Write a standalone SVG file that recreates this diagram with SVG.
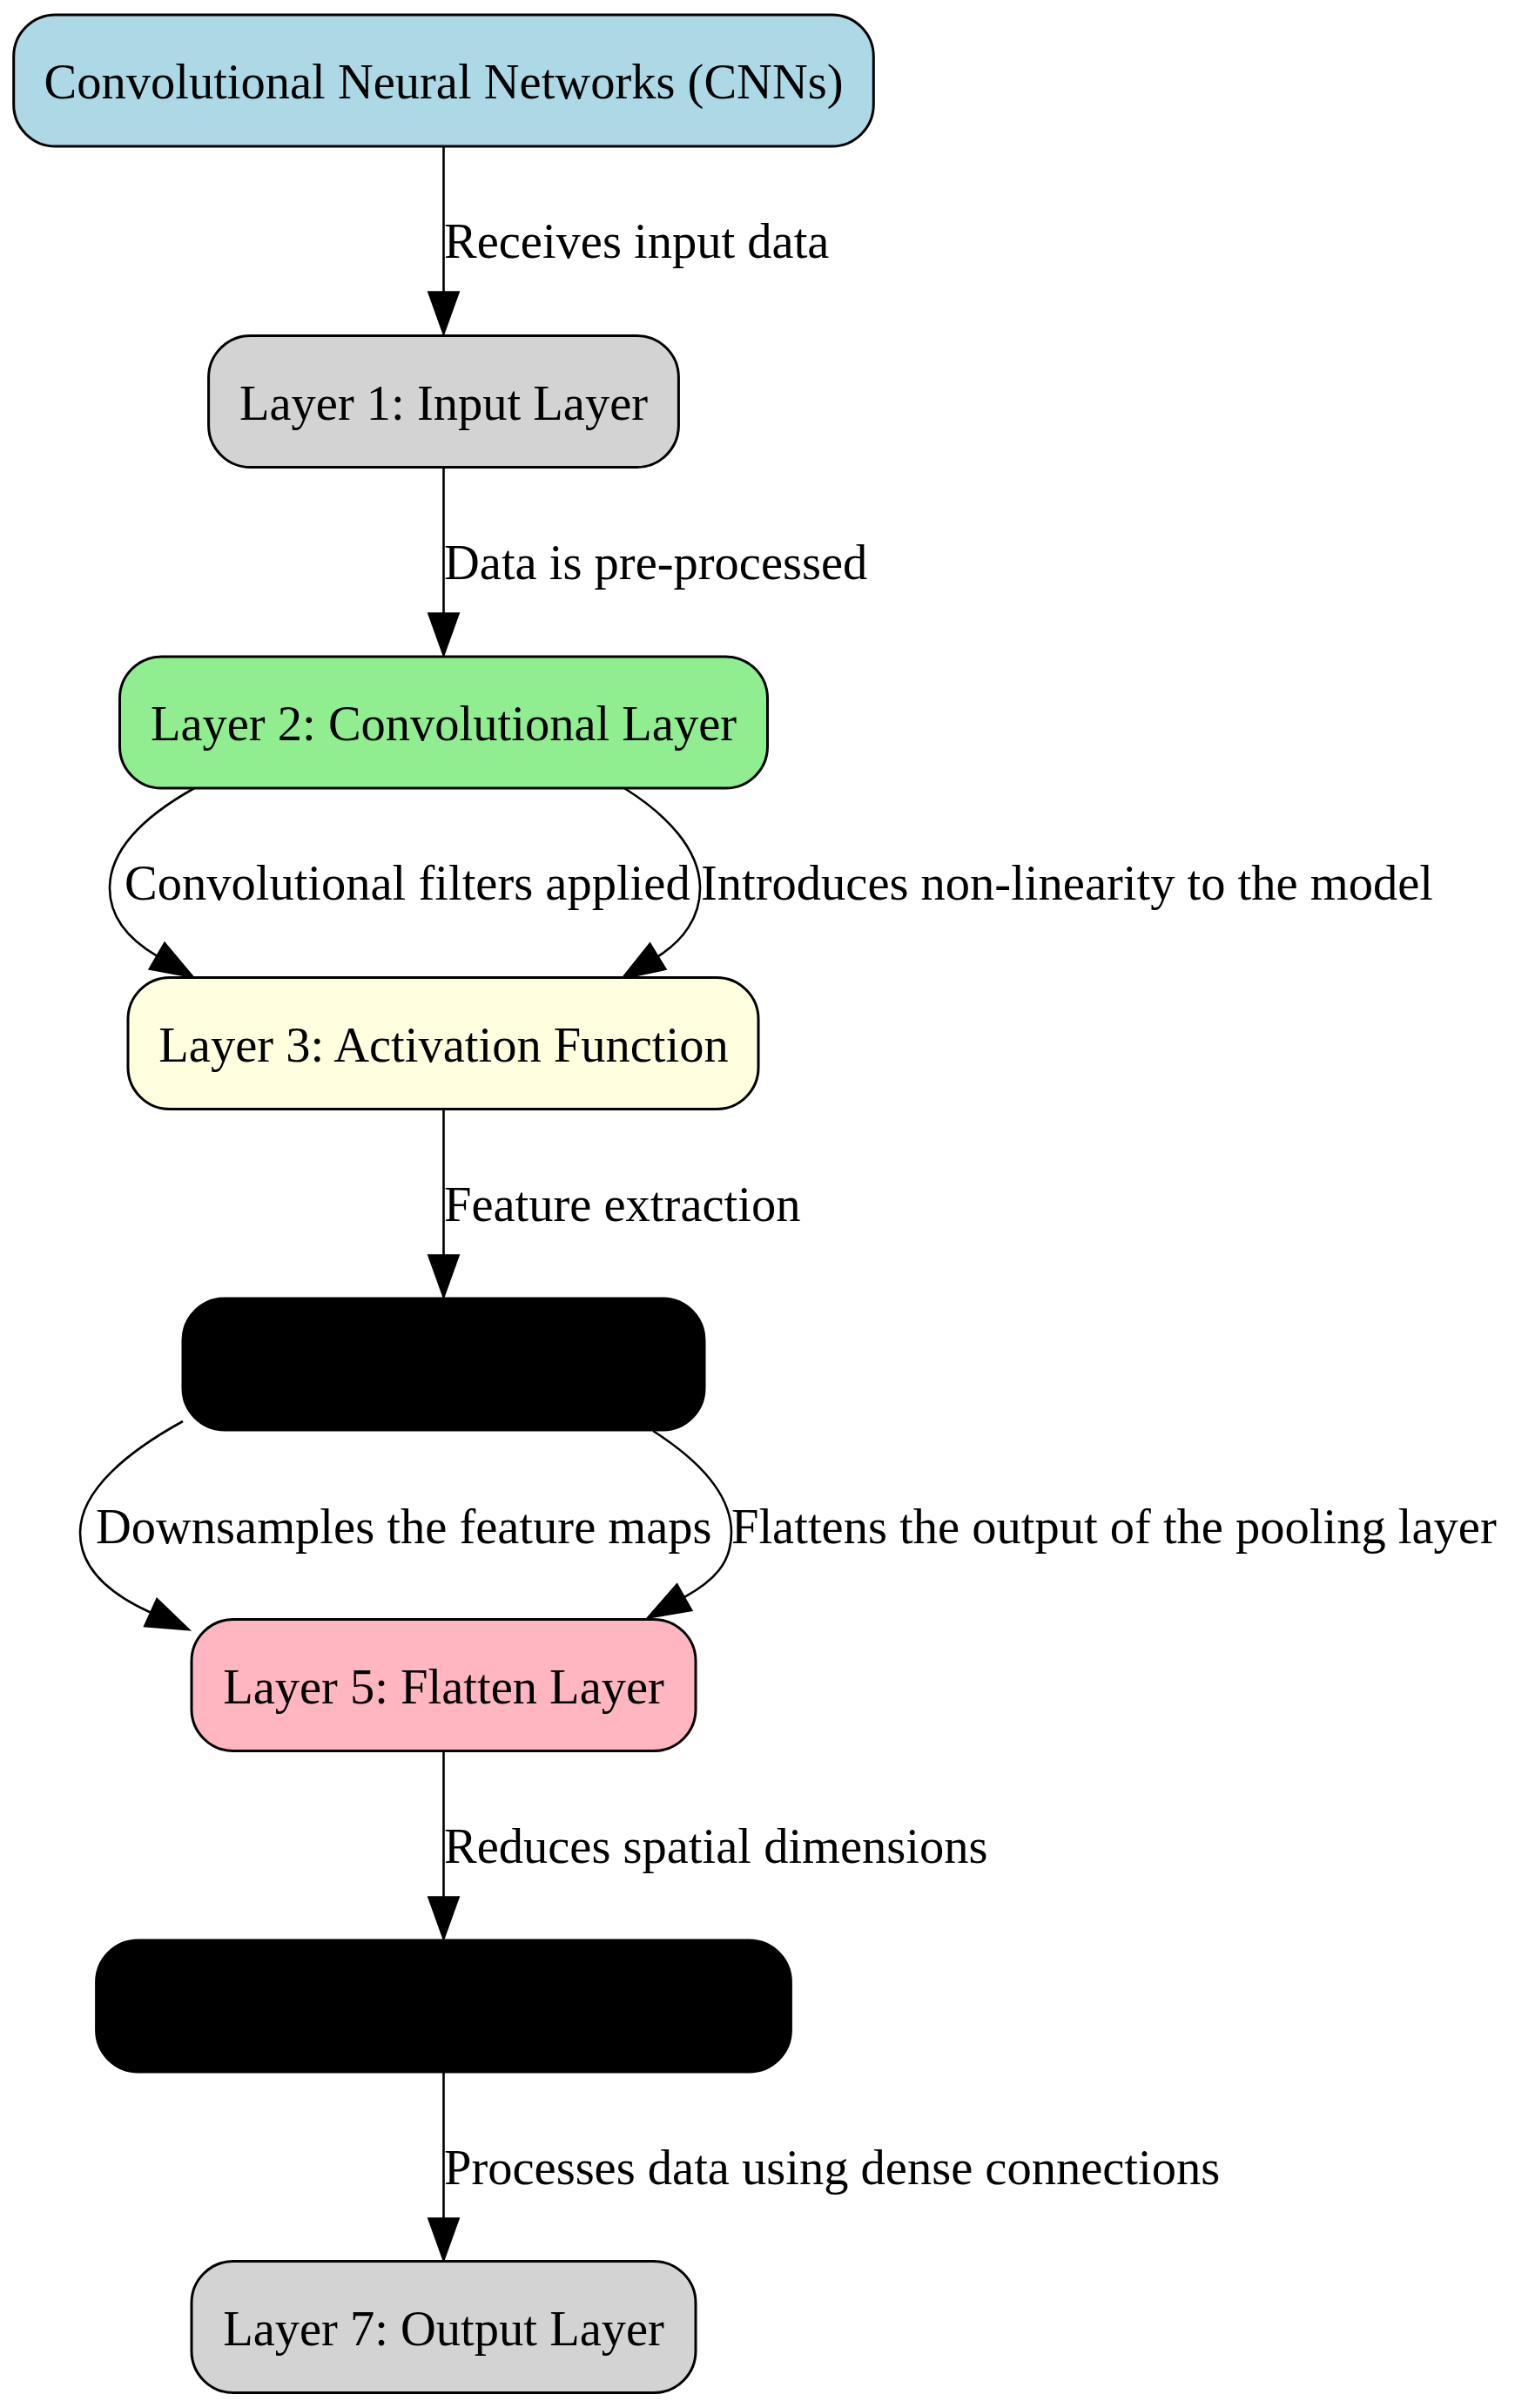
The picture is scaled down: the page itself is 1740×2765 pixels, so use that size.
<svg xmlns="http://www.w3.org/2000/svg" width="1740" height="2765" viewBox="0 0 1740 2765">
<style>
.node rect{stroke:#000;stroke-width:3}
.node text{font-family:"Liberation Serif","Times New Roman",serif;font-size:56.5px;fill:#000;text-anchor:middle}
.edge path{fill:none;stroke:#000;stroke-width:2.6}
.lbl{font-family:"Liberation Serif","Times New Roman",serif;font-size:56.5px;fill:#000}
</style>
<defs>
<marker id="arr" markerUnits="userSpaceOnUse" markerWidth="60" markerHeight="40" refX="0" refY="20" orient="auto" overflow="visible">
<path d="M0,3 L47.5,20 L0,37 Z" fill="#000" stroke="#000" stroke-width="2.6"/>
</marker>
</defs>
<rect width="1740" height="2765" fill="#fff"/>
<g id="connectors" class="edge">
<path d="M509.5,168 L509.5,335.5" marker-end="url(#arr)"/>
<path d="M509.5,536.5 L509.5,704.5" marker-end="url(#arr)"/>
<path d="M223.3,905 C175,932 126,970 126,1020 C126,1055 150,1080 180.5,1097.8" marker-end="url(#arr)"/>
<path d="M717,905 C765,935 804,975 804,1020 C804,1053 785,1080 755.4,1098.3" marker-end="url(#arr)"/>
<path d="M509.5,1273.5 L509.5,1441.5" marker-end="url(#arr)"/>
<path d="M210,1632 C150,1665 92,1710 92,1760 C92,1800 125,1830 173.3,1851.7" marker-end="url(#arr)"/>
<path d="M750,1643 C800,1675 840,1715 840,1760 C840,1795 820,1815 785.8,1834.2" marker-end="url(#arr)"/>
<path d="M509.5,2010.5 L509.5,2178.5" marker-end="url(#arr)"/>
<path d="M509.5,2379 L509.5,2547.5" marker-end="url(#arr)"/>
<text class="lbl" x="510" y="296">Receives input data</text>
<text class="lbl" x="510" y="665">Data is pre-processed</text>
<text class="lbl" x="143" y="1033">Convolutional filters applied</text>
<text class="lbl" x="805" y="1033">Introduces non-linearity to the model</text>
<text class="lbl" x="510" y="1402">Feature extraction</text>
<text class="lbl" x="110" y="1772">Downsamples the feature maps</text>
<text class="lbl" x="840" y="1772">Flattens the output of the pooling layer</text>
<text class="lbl" x="510" y="2139">Reduces spatial dimensions</text>
<text class="lbl" x="510" y="2508">Processes data using dense connections</text>
</g>
<g id="cnn" class="node">
<rect x="15.7" y="17" width="987.6" height="151" rx="48" ry="48" fill="#ADD8E6"/>
<text x="509.5" y="113">Convolutional Neural Networks (CNNs)</text>
</g>
<g id="layer1" class="node">
<rect x="239.6" y="385.5" width="539.8" height="151" rx="48" ry="48" fill="#D3D3D3"/>
<text x="509.5" y="481.5">Layer 1: Input Layer</text>
</g>
<g id="layer2" class="node">
<rect x="137.5" y="754" width="744" height="151" rx="48" ry="48" fill="#90EE90"/>
<text x="509.5" y="850">Layer 2: Convolutional Layer</text>
</g>
<g id="layer3" class="node">
<rect x="147" y="1122.5" width="724" height="151" rx="48" ry="48" fill="#FFFFE0"/>
<text x="509.5" y="1218.5">Layer 3: Activation Function</text>
</g>
<g id="layer4" class="node">
<rect x="210" y="1491" width="599" height="151" rx="48" ry="48" fill="#000"/>
</g>
<g id="layer5" class="node">
<rect x="220" y="1859.5" width="579" height="151" rx="48" ry="48" fill="#FFB6C1"/>
<text x="509.5" y="1955.5">Layer 5: Flatten Layer</text>
</g>
<g id="layer6" class="node">
<rect x="110.6" y="2228" width="797.8" height="151" rx="48" ry="48" fill="#000"/>
</g>
<g id="layer7" class="node">
<rect x="220" y="2596.5" width="579" height="151" rx="48" ry="48" fill="#D3D3D3"/>
<text x="509.5" y="2692.5">Layer 7: Output Layer</text>
</g>
</svg>
